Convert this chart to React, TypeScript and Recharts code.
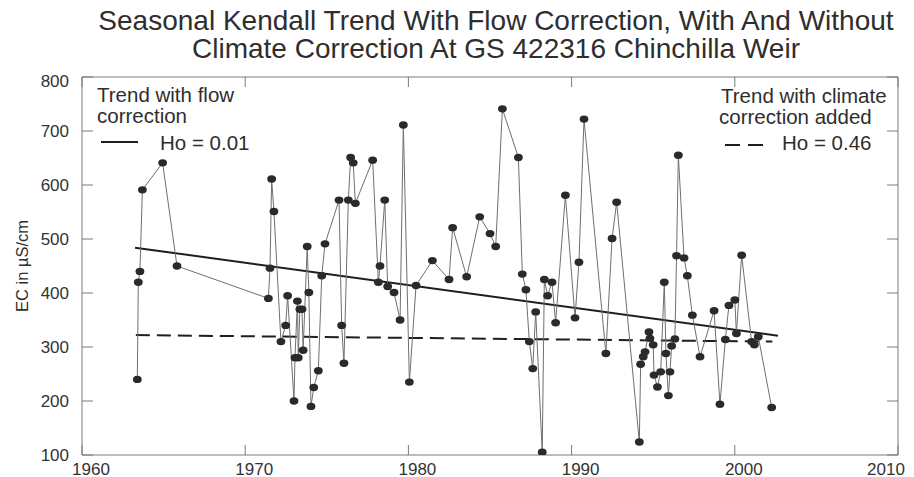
import { ComposedChart, Line, XAxis, YAxis } from 'recharts';

// sample dates (decimal years) and EC readings
const years = [
    1963.39, 1963.45, 1963.55, 1963.7, 1964.94, 1965.82,
    1971.42, 1971.52, 1971.62, 1971.76, 1972.19, 1972.48, 1972.6, 1972.99, 1973.05, 1973.2, 1973.25,
    1973.35, 1973.48, 1973.55, 1973.8, 1973.9, 1974.03, 1974.2, 1974.48, 1974.69, 1974.89,
    1975.75, 1975.91, 1976.05, 1976.32, 1976.46, 1976.62, 1976.75, 1977.81, 1978.16, 1978.26,
    1978.55, 1978.73, 1979.12, 1979.49, 1979.69,
    1980.06, 1980.47, 1981.47, 1982.49, 1982.71, 1983.57, 1984.37, 1985.0, 1985.35, 1985.76,
    1986.74, 1986.98, 1987.2, 1987.41, 1987.62, 1987.8, 1988.2, 1988.33, 1988.53, 1988.8, 1989.02, 1989.62,
    1990.21, 1990.45, 1990.76, 1992.1, 1992.48, 1992.76,
    1994.15, 1994.23, 1994.39, 1994.5, 1994.74, 1994.8, 1995.0, 1995.05, 1995.26, 1995.46, 1995.68,
    1995.78, 1995.93, 1996.03, 1996.13, 1996.33, 1996.43, 1996.54, 1996.89, 1997.09, 1997.4, 1997.87,
    1998.73, 1999.09, 1999.42, 1999.64, 2000.0, 2000.1, 2000.42, 2001.03, 2001.2, 2001.44, 2002.26,
];
const ecValues = [
    240, 420, 440, 591, 641, 450,
    390, 446, 611, 551, 310, 340, 395, 200, 280, 385, 280,
    370, 370, 294, 486, 401, 190, 225, 256, 432, 491,
    572, 340, 270, 572, 651, 641, 566, 646, 420, 450,
    572, 412, 401, 350, 711,
    235, 414, 460, 425, 521, 430, 541, 510, 486, 741,
    651, 435, 406, 310, 260, 365, 105, 425, 395, 420, 345, 581,
    354, 457, 722, 288, 501, 568,
    124, 268, 282, 291, 328, 316, 304, 248, 226, 254, 420,
    288, 210, 254, 302, 315, 469, 655, 465, 432, 359, 282,
    367, 194, 314, 377, 387, 325, 470, 310, 304, 319, 188,
];

// fitted trend lines (end points)
const flowTrendYears = [1963.25, 2002.65];
const flowTrendValues = [484, 321];
const climateTrendYears = [1963.3, 2002.3];
const climateTrendValues = [322, 310];

const xTicks = [1960, 1970, 1980, 1990, 2000, 2010];
const yTicks = [100, 200, 300, 400, 500, 600, 700, 800];

const samples = years.map((year, i) => ({ year, ec: ecValues[i] }));
const flowTrend = flowTrendYears.map((year, i) => ({ year, ec: flowTrendValues[i] }));
const climateTrend = climateTrendYears.map((year, i) => ({ year, ec: climateTrendValues[i] }));

const FONT = '"Liberation Sans", Arial, Helvetica, sans-serif';
const FRAME = '#7a7a7a';
const INK = '#2a2a2a';

const BottomTick = ({ x, y, payload }: any) => (
    <g>
        <line x1={x} y1={y} x2={x} y2={y - 10} stroke={FRAME} />
        <text x={Math.min(x + 9, 886)} y={y + 19.5} textAnchor="middle" fontSize={17} fontFamily={FONT} fill="#333">
            {payload.value}
        </text>
    </g>
);

const TopTick = ({ x, y }: any) => <line x1={x} y1={y} x2={x} y2={y + 10} stroke={FRAME} />;

const LeftTick = ({ x, y, payload }: any) => (
    <g>
        <line x1={x} y1={y} x2={x + 11} y2={y} stroke={FRAME} />
        <text x={69} y={Math.max(y + 6, 87)} textAnchor="end" fontSize={17} fontFamily={FONT} fill="#333">
            {payload.value}
        </text>
    </g>
);

const RightTick = ({ x, y }: any) => <line x1={x} y1={y} x2={x - 11} y2={y} stroke={FRAME} />;

const renderDot = (props: any) => (
    <ellipse key={`dot-${props.index}`} cx={props.cx} cy={props.cy} rx={4.4} ry={3.7} fill={INK} />
);

export default function App() {
    return (
        <div style={{ position: 'relative', width: 914, height: 477, background: '#fff', fontFamily: FONT }}>
            <style>{'body{margin:0}'}</style>
            <ComposedChart width={914} height={477} margin={{ top: 0, right: 0, bottom: 0, left: 0 }}>
                <XAxis
                    dataKey="year"
                    type="number"
                    domain={[1960, 2010]}
                    ticks={xTicks}
                    interval={0}
                    height={22}
                    tickSize={0}
                    tickMargin={0}
                    tickLine={false}
                    axisLine={{ stroke: FRAME }}
                    tick={<BottomTick />}
                    allowDataOverflow
                />
                <XAxis
                    xAxisId="top"
                    orientation="top"
                    dataKey="year"
                    type="number"
                    domain={[1960, 2010]}
                    ticks={xTicks}
                    interval={0}
                    height={77}
                    tickSize={0}
                    tickMargin={0}
                    tickLine={false}
                    axisLine={{ stroke: FRAME }}
                    tick={<TopTick />}
                    allowDataOverflow
                />
                <YAxis
                    type="number"
                    domain={[100, 800]}
                    ticks={yTicks}
                    interval={0}
                    width={82}
                    tickSize={0}
                    tickMargin={0}
                    tickLine={false}
                    axisLine={{ stroke: FRAME }}
                    tick={<LeftTick />}
                    allowDataOverflow
                />
                <YAxis
                    yAxisId="right"
                    orientation="right"
                    type="number"
                    domain={[100, 800]}
                    ticks={yTicks}
                    interval={0}
                    width={16}
                    tickSize={0}
                    tickMargin={0}
                    tickLine={false}
                    axisLine={{ stroke: FRAME }}
                    tick={<RightTick />}
                    allowDataOverflow
                />
                <Line data={flowTrend} dataKey="ec" type="linear" stroke="#1e1e1e" strokeWidth={2} dot={false} isAnimationActive={false} />
                <Line data={climateTrend} dataKey="ec" type="linear" stroke="#1e1e1e" strokeWidth={2} strokeDasharray="14 7" dot={false} isAnimationActive={false} />
                <Line data={samples} dataKey="ec" type="linear" stroke="#6f6f6f" strokeWidth={1} dot={renderDot} isAnimationActive={false} />
            </ComposedChart>

            <svg width={914} height={477} style={{ position: 'absolute', left: 0, top: 0, pointerEvents: 'none' }}>
                <g fontFamily={FONT} fill="#2e2e2e">
                    <text x={496} y={30} textAnchor="middle" fontSize={28}>
                        Seasonal Kendall Trend With Flow Correction, With And Without
                    </text>
                    <text x={496} y={58} textAnchor="middle" fontSize={28}>
                        Climate Correction At GS 422316 Chinchilla Weir
                    </text>
                    <text transform="translate(28, 266) rotate(-90)" textAnchor="middle" fontSize={16.5}>
                        EC in µS/cm
                    </text>

                    <text x={97} y={102} fontSize={20.5}>Trend with flow</text>
                    <text x={97} y={123} fontSize={20.5}>correction</text>
                    <line x1={101} y1={142} x2={138} y2={142} stroke="#1e1e1e" strokeWidth={2} />
                    <text x={160} y={150} fontSize={20.5}>Ho = 0.01</text>

                    <text x={721} y={103} fontSize={20.5}>Trend with climate</text>
                    <text x={719} y={124} fontSize={20.5}>correction added</text>
                    <line x1={725} y1={145} x2={763} y2={145} stroke="#1e1e1e" strokeWidth={2} strokeDasharray="15 8" />
                    <text x={782} y={150} fontSize={20.5}>Ho = 0.46</text>
                </g>
            </svg>
        </div>
    );
}
